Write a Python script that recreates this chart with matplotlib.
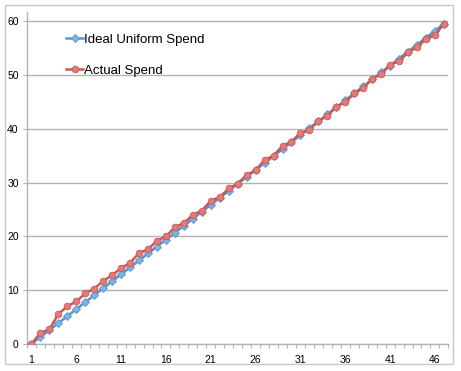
#!/bin/python3

"""
Ideal uniform spend vs. actual spend, drawn in the old Excel line chart style.
"""

import matplotlib
matplotlib.use("Agg")
import matplotlib.pyplot as plt
from matplotlib.patches import Rectangle

PERIODS = list(range(1, 48))

IDEAL = [
    0.00, 1.29, 2.59, 3.88, 5.17, 6.47, 7.76, 9.05, 10.35, 11.64,
    12.94, 14.23, 15.52, 16.82, 18.11, 19.40, 20.70, 21.99, 23.28, 24.58,
    25.87, 27.16, 28.46, 29.75, 31.04, 32.34, 33.63, 34.92, 36.22, 37.51,
    38.80, 40.10, 41.39, 42.68, 43.98, 45.27, 46.57, 47.86, 49.15, 50.45,
    51.74, 53.03, 54.33, 55.62, 56.91, 58.21, 59.50,
]

ACTUAL = [
    0.0, 2.1, 2.7, 5.6, 7.0, 7.9, 9.4, 10.3, 11.7, 12.8,
    14.1, 15.1, 16.9, 17.6, 19.2, 20.0, 21.7, 22.5, 24.0, 24.8,
    26.6, 27.3, 28.9, 29.8, 31.4, 32.3, 34.2, 35.0, 36.8, 37.6,
    39.2, 39.8, 41.4, 42.4, 44.1, 44.9, 46.6, 47.5, 49.3, 50.1,
    51.9, 52.5, 54.2, 55.1, 56.7, 57.4, 59.5,
]

X_LABELS = [1, 6, 11, 16, 21, 26, 31, 36, 41, 46]
Y_TICKS = [0, 10, 20, 30, 40, 50, 60]

IDEAL_LABEL = "Ideal Uniform Spend"
ACTUAL_LABEL = "Actual Spend"

BLUE_LINE = "#5b93cf"
BLUE_FACE = "#7fb3e3"
RED_LINE = "#c75a57"
RED_FACE = "#e47a76"
GRID = "#b3b3b3"

FONT = ["Liberation Sans", "DejaVu Sans"]


def main() -> None:
    plt.rcParams["font.family"] = FONT
    fig = plt.figure(figsize=(4.61, 3.71), dpi=100)
    ax = fig.add_axes([0.0586, 0.0728, 0.914, 0.895])

    # outer chart border
    fig.patches.append(Rectangle(
        (0.011, 0.018), 0.972, 0.968, transform=fig.transFigure,
        fill=False, edgecolor="#c8c8c8", linewidth=1.0,
    ))

    ax.plot(
        PERIODS, IDEAL,
        color=BLUE_LINE, linewidth=1.8,
        marker="D", markersize=4.0,
        markerfacecolor=BLUE_FACE, markeredgecolor=BLUE_LINE, markeredgewidth=0.6,
        label=IDEAL_LABEL, zorder=3,
    )
    ax.plot(
        PERIODS, ACTUAL,
        color=RED_LINE, linewidth=1.8,
        marker="o", markersize=4.8,
        markerfacecolor=RED_FACE, markeredgecolor=RED_LINE, markeredgewidth=0.6,
        label=ACTUAL_LABEL, zorder=4,
    )

    ax.set_xlim(0.5, 47.5)
    ax.set_ylim(0, 61.7)

    ax.set_yticks(Y_TICKS)
    ax.set_yticklabels([str(v) for v in Y_TICKS], fontsize=7.5)
    ax.set_xticks(X_LABELS)
    ax.set_xticklabels([str(v) for v in X_LABELS], fontsize=7.5)
    ax.tick_params(axis="x", length=0, pad=8)
    ax.tick_params(axis="y", length=3, width=0.8, color=GRID, pad=3)
    # category boundary tick marks
    ax.set_xticks([p + 0.5 for p in [0] + PERIODS], minor=True)
    ax.tick_params(axis="x", which="minor", length=3, width=0.8, color=GRID)

    ax.grid(axis="y", color=GRID, linewidth=1.0)
    ax.set_axisbelow(True)
    for side in ("top", "right"):
        ax.spines[side].set_visible(False)
    for side in ("left", "bottom"):
        ax.spines[side].set_color(GRID)
        ax.spines[side].set_linewidth(1.0)

    ax.legend(
        loc="upper left", bbox_to_anchor=(0.08, 0.95),
        frameon=False, fontsize=9.5,
        handlelength=1.3, handletextpad=0.05, labelspacing=1.4,
        borderaxespad=0,
    )

    fig.savefig("out.png", dpi=100)


if __name__ == "__main__":
    main()
